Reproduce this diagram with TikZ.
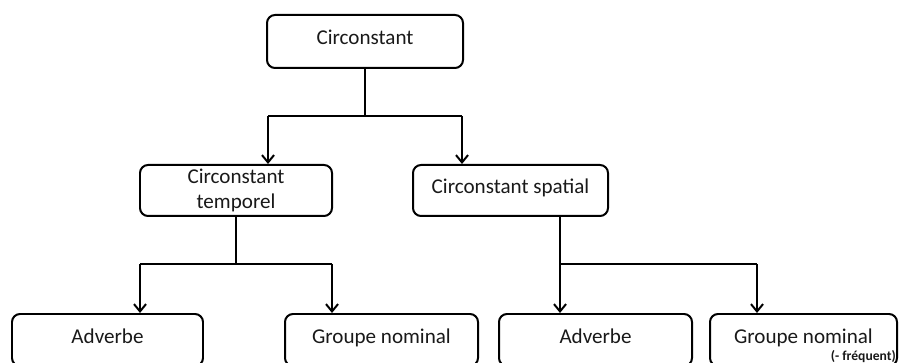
\documentclass[tikz,border=0pt]{standalone}
\usepackage{fontspec}
\setmainfont{Carlito}
\usetikzlibrary{arrows.meta,positioning,calc}

\begin{document}
\begin{tikzpicture}[
    font=\fontsize{18}{21.5}\selectfont,
    box/.style={
        draw=black,
        rounded corners=2.4mm,
        line width=1.7pt,
        minimum width=5.8cm,
        minimum height=1.56cm,
        align=center,
        text=black!90,
        inner sep=0pt
    },
    oneline/.style={box, text height=0.62em, text depth=0.04em},
    link/.style={line width=1.7pt},
    arr/.style={link, -{Straight Barb[length=2.2mm,width=3.6mm,line width=1.7pt]}}
]

\useasboundingbox (0,0) rectangle (26.97,10.89);
\clip (0,0) rectangle (26.97,10.89);

% top level
\node[oneline, minimum width=5.88cm, minimum height=1.59cm] (circ) at (10.95,9.645) {Circonstant};

% second level
\node[box, minimum width=5.76cm, minimum height=1.53cm] (temp) at (7.08,5.175)
{Circonstant\\temporel};
\node[oneline, minimum width=5.85cm, minimum height=1.53cm] (spat) at (15.315,5.175)
{Circonstant spatial};

% third level
\node[oneline, minimum width=5.73cm] (adva) at (3.225,0.69) {Adverbe};
\node[oneline, minimum width=5.79cm] (gna) at (11.445,0.69) {Groupe nominal};
\node[oneline, minimum width=5.79cm] (advb) at (17.865,0.69) {Adverbe};
\node[oneline, minimum width=5.61cm] (gnb) at (24.105,0.69) {Groupe nominal};
\node[font=\fontsize{11.6}{13}\selectfont\bfseries, text=black!90] (freq) at (25.9,0.19) {(- fréquent)};

% branch points
\coordinate (j1) at (10.95,7.41);
\coordinate (j1l) at (8.04,7.41);
\coordinate (j1r) at (13.86,7.41);
\coordinate (j2) at (7.08,2.97);
\coordinate (j2l) at (4.2,2.97);
\coordinate (j2r) at (9.96,2.97);
\coordinate (j3) at (16.8,2.97);
\coordinate (j3r) at (22.71,2.97);

\draw[link] (circ.south) -- (j1);
\draw[link] (j1l) -- (j1r);
\draw[arr] (j1l) -- (j1l |- temp.north);
\draw[arr] (j1r) -- (j1r |- spat.north);

\draw[link] (temp.south) -- (j2);
\draw[link] (j2l) -- (j2r);
\draw[arr] (j2l) -- (j2l |- adva.north);
\draw[arr] (j2r) -- (j2r |- gna.north);

\draw[link] (spat.south -| j3) -- (j3);
\draw[link] (j3) -- (j3r);
\draw[arr] (j3) -- (j3 |- advb.north);
\draw[arr] (j3r) -- (j3r |- gnb.north);

\end{tikzpicture}
\end{document}
